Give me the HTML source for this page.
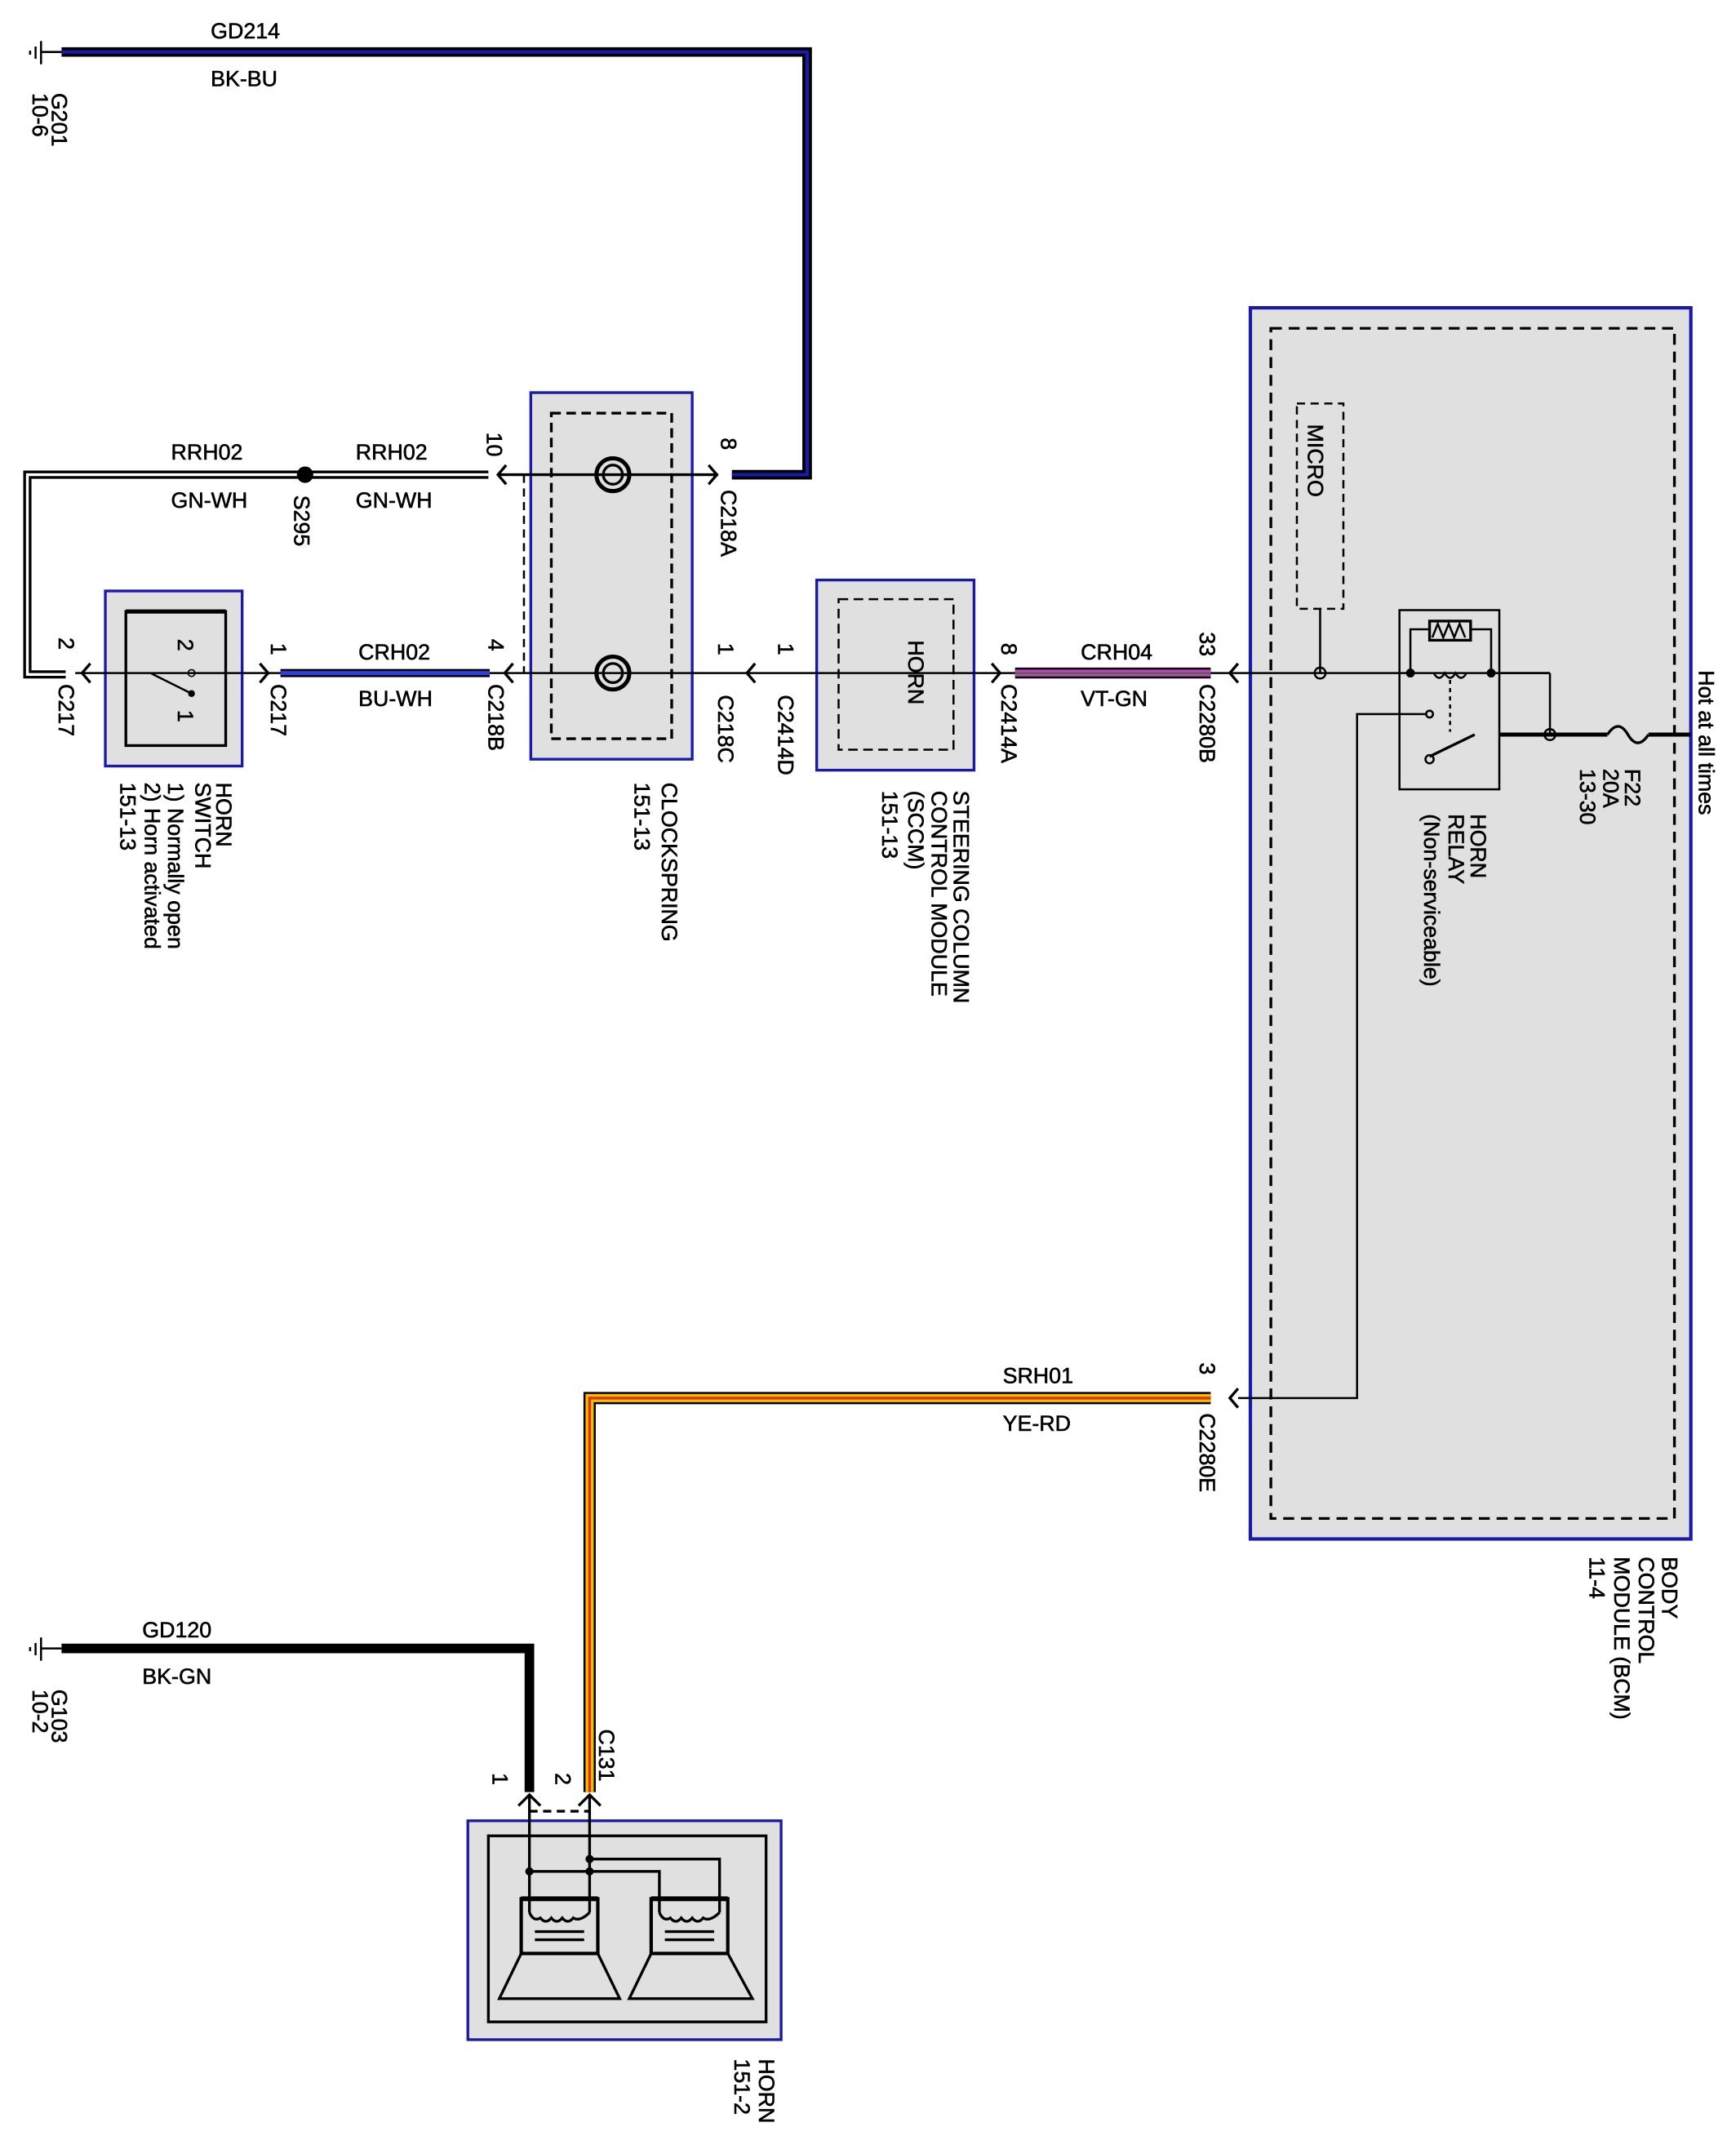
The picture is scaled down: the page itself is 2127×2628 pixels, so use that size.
<!DOCTYPE html>
<html><head><meta charset="utf-8"><style>html,body{margin:0;padding:0;background:#fff}svg{display:block}text{font-family:"Liberation Sans",Arial,sans-serif;font-size:16px;fill:#000;stroke:#000;stroke-width:0.35}</style></head><body>
<svg width="2127" height="2628" viewBox="0 0 1269 1568" preserveAspectRatio="none" xmlns="http://www.w3.org/2000/svg">
<rect width="1269" height="1568" fill="#fff"/>
<rect x="388" y="287" width="118" height="268" fill="#e0e0e0" stroke="#1a1aa8" stroke-width="2"/>
<rect x="403" y="302" width="88" height="238" fill="none" stroke="#000" stroke-width="2" stroke-dasharray="7,4"/>
<line x1="383" y1="347" x2="383" y2="492" stroke="#000" stroke-width="1.5" stroke-dasharray="6,4"/>
<rect x="77" y="432" width="100" height="128" fill="#e0e0e0" stroke="#1a1aa8" stroke-width="2"/>
<rect x="92" y="447" width="73" height="98" fill="none" stroke="#000" stroke-width="2"/>
<line x1="92" y1="447" x2="165" y2="447" stroke="#000" stroke-width="3"/>
<rect x="597" y="424" width="115" height="139" fill="#e0e0e0" stroke="#1a1aa8" stroke-width="2"/>
<rect x="613" y="438" width="84" height="110" fill="none" stroke="#000" stroke-width="1.5" stroke-dasharray="7,4"/>
<rect x="914" y="225" width="322" height="900" fill="#e0e0e0" stroke="#1a1aa8" stroke-width="2.5"/>
<rect x="929" y="240" width="295" height="870" fill="none" stroke="#000" stroke-width="2" stroke-dasharray="8,5"/>
<rect x="948" y="295" width="34" height="150" fill="none" stroke="#000" stroke-width="1.5" stroke-dasharray="6,4"/>
<rect x="1023" y="446" width="73" height="131" fill="none" stroke="#000" stroke-width="1.5"/>
<rect x="342" y="1331" width="229" height="160" fill="#e0e0e0" stroke="#1a1aa8" stroke-width="2"/>
<rect x="357" y="1342" width="203" height="136" fill="none" stroke="#000" stroke-width="2"/>
<g stroke="#000" fill="none" stroke-width="1.5">
<line x1="30" y1="30" x2="30" y2="47"/><line x1="26" y1="34" x2="26" y2="43"/><line x1="22" y1="37" x2="22" y2="40"/>
<line x1="30" y1="38" x2="45" y2="38"/>
<line x1="30" y1="1197" x2="30" y2="1214"/><line x1="26" y1="1201" x2="26" y2="1210"/><line x1="22" y1="1204" x2="22" y2="1207"/>
<line x1="30" y1="1205" x2="45" y2="1205"/>
</g>
<polyline points="45,38 590,38 590,347 535,347" fill="none" stroke="#000" stroke-width="7"/>
<polyline points="45,38 590,38 590,347 535,347" fill="none" stroke="#1a1ab0" stroke-width="2.5"/>
<polyline points="45,1205 387,1205 387,1310" fill="none" stroke="#000" stroke-width="7"/>
<polyline points="885,1022 431,1022 431,1310" fill="none" stroke="#000" stroke-width="9"/>
<polyline points="885,1022 431,1022 431,1310" fill="none" stroke="#f0c000" stroke-width="6"/>
<polyline points="885,1022 431,1022 431,1310" fill="none" stroke="#e03000" stroke-width="2"/>
<polyline points="357,347 20,347 20,493 48,493" fill="none" stroke="#000" stroke-width="6"/>
<polyline points="357,347 20,347 20,493 48,493" fill="none" stroke="#fff" stroke-width="2"/>
<circle cx="223" cy="347" r="6" fill="#000"/>
<line x1="365" y1="347" x2="525" y2="347" stroke="#000" stroke-width="2"/>
<circle cx="448" cy="347" r="12" fill="none" stroke="#000" stroke-width="3"/><circle cx="448" cy="347" r="7" fill="none" stroke="#000" stroke-width="2"/>
<circle cx="448" cy="492" r="12" fill="none" stroke="#000" stroke-width="3"/><circle cx="448" cy="492" r="7" fill="none" stroke="#000" stroke-width="2"/>
<line x1="55" y1="492" x2="1133" y2="492" stroke="#000" stroke-width="1.5"/>
<line x1="205" y1="492" x2="358" y2="492" stroke="#000" stroke-width="6"/>
<line x1="205" y1="492" x2="358" y2="492" stroke="#3040e0" stroke-width="3"/>
<line x1="742" y1="492" x2="885" y2="492" stroke="#000" stroke-width="8"/>
<line x1="742" y1="492" x2="885" y2="492" stroke="#c040c0" stroke-width="5"/>
<line x1="742" y1="492" x2="885" y2="492" stroke="#208020" stroke-width="1"/>
<circle cx="140" cy="492" r="2.5" fill="none" stroke="#000"/><circle cx="140" cy="507" r="2.5" fill="#000"/>
<line x1="110" y1="492" x2="140" y2="507" stroke="#000" stroke-width="1.5"/>
<g stroke="#000" stroke-width="2" fill="none">
<path d="M370,340 L364,347 L370,354"/><path d="M518,340 L524,347 L518,354"/>
<path d="M66,485 L60,492 L66,499"/><path d="M190,485 L196,492 L190,499"/>
<path d="M375,485 L369,492 L375,499"/><path d="M552,485 L546,492 L552,499"/>
<path d="M725,485 L731,492 L725,499"/><path d="M905,485 L899,492 L905,499"/>
<path d="M905,1015 L899,1022 L905,1029"/>
<path d="M379,1320 L387,1312 L395,1320"/><path d="M423,1320 L431,1312 L439,1320"/>
</g>
<line x1="387" y1="1324" x2="431" y2="1324" stroke="#000" stroke-width="2" stroke-dasharray="6,4"/>
<g stroke="#000" stroke-width="1.5" fill="none">
<line x1="965" y1="445" x2="965" y2="492"/><circle cx="965" cy="492" r="4"/>
<line x1="1096" y1="492" x2="1133" y2="492"/><line x1="1133" y1="492" x2="1133" y2="537"/>
<circle cx="1133" cy="537" r="4"/>
<line x1="1096" y1="537" x2="1175" y2="537" stroke-width="3"/><path d="M1175,537 q8,-12 15,0 q7,12 15,0" stroke-width="2"/>
<line x1="1205" y1="537" x2="1236" y2="537" stroke-width="3"/>
<polyline points="1031,492 1031,460 1045,460"/><polyline points="1090,492 1090,460 1075,460"/>
<rect x="1045" y="454" width="30" height="14" stroke-width="2"/><path d="M1047,466 l4,-10 l4,10 l4,-10 l4,10 l4,-10 l4,10"/>
<circle cx="1031" cy="492" r="2.5" fill="#000"/><circle cx="1090" cy="492" r="2.5" fill="#000"/>
<path d="M1048,492 q4,7 8,0 q4,7 8,0 q4,7 8,0"/>
<line x1="1060" y1="497" x2="1060" y2="535" stroke-dasharray="3,3"/>
<circle cx="1045" cy="522" r="2.5"/><polyline points="1043,522 992,522 992,1022 905,1022"/>
<line x1="1045" y1="553" x2="1078" y2="537" stroke-width="2"/><circle cx="1045" cy="555" r="3"/>
</g>
<g stroke="#000" stroke-width="2" fill="none">
<line x1="387" y1="1312" x2="387" y2="1398"/><line x1="431" y1="1312" x2="431" y2="1398"/>
<polyline points="431,1359 526,1359 526,1398"/>
<polyline points="387,1368 482,1368 482,1398"/>
<circle cx="387" cy="1368" r="2" fill="#000"/><circle cx="431" cy="1368" r="2" fill="#000"/><circle cx="431" cy="1359" r="2" fill="#000"/>
<rect x="381" y="1388" width="56" height="40" stroke-width="2.5"/><rect x="476" y="1388" width="56" height="40" stroke-width="2.5"/>
<line x1="381" y1="1388" x2="437" y2="1388" stroke-width="3.5"/><line x1="476" y1="1388" x2="532" y2="1388" stroke-width="3.5"/>
<path d="M365,1461 L381,1428 L437,1428 L453,1461 Z"/><path d="M460,1461 L476,1428 L532,1428 L550,1461 Z"/>
<line x1="391" y1="1412" x2="427" y2="1412"/><line x1="391" y1="1418" x2="427" y2="1418"/>
<line x1="486" y1="1412" x2="522" y2="1412"/><line x1="486" y1="1418" x2="522" y2="1418"/>
<path d="M387,1398 q3,7 8,4 q4,5 8,0 q4,5 8,0 q4,5 8,0 q5,3 12,-4"/>
<path d="M482,1398 q3,7 8,4 q4,5 8,0 q4,5 8,0 q4,5 8,0 q5,3 12,-4"/>
</g>
<text x="154" y="28">GD214</text><text x="154" y="63">BK-BU</text>
<text x="125" y="336">RRH02</text><text x="125" y="371">GN-WH</text>
<text x="260" y="336">RRH02</text><text x="260" y="371">GN-WH</text>
<text x="262" y="482">CRH02</text><text x="262" y="516">BU-WH</text>
<text x="790" y="482">CRH04</text><text x="790" y="516">VT-GN</text>
<text x="733" y="1011">SRH01</text><text x="733" y="1046">YE-RD</text>
<text x="104" y="1197">GD120</text><text x="104" y="1231">BK-GN</text>
<g font-size="16">
<text transform="translate(38,68) rotate(90)">G201</text><text transform="translate(24,68) rotate(90)">10-6</text>
<text transform="translate(38,1235) rotate(90)">G103</text><text transform="translate(24,1235) rotate(90)">10-2</text>
<text transform="translate(215,362) rotate(90)">S295</text>
<text transform="translate(356,316) rotate(90)">10</text>
<text transform="translate(527,320) rotate(90)">8</text>
<text transform="translate(527,358) rotate(90)">C218A</text>
<text transform="translate(43,466) rotate(90)">2</text><text transform="translate(43,500) rotate(90)">C217</text>
<text transform="translate(198,470) rotate(90)">1</text><text transform="translate(198,500) rotate(90)">C217</text>
<text transform="translate(357,467) rotate(90)">4</text><text transform="translate(357,500) rotate(90)">C218B</text>
<text transform="translate(525,470) rotate(90)">1</text><text transform="translate(525,508) rotate(90)">C218C</text>
<text transform="translate(569,470) rotate(90)">1</text><text transform="translate(569,508) rotate(90)">C2414D</text>
<text transform="translate(732,470) rotate(90)">8</text><text transform="translate(732,500) rotate(90)">C2414A</text>
<text transform="translate(877,462) rotate(90)">33</text><text transform="translate(877,500) rotate(90)">C2280B</text>
<text transform="translate(877,996) rotate(90)">3</text><text transform="translate(877,1033) rotate(90)">C2280E</text>
<text transform="translate(130,467) rotate(90)" font-size="13">2</text><text transform="translate(130,519) rotate(90)" font-size="13">1</text>
<text transform="translate(664,468) rotate(90)">HORN</text>
<text transform="translate(956,310) rotate(90)">MICRO</text>
<text transform="translate(1242,490) rotate(90)">Hot at all times</text>
<text transform="translate(1188,562) rotate(90)">F22</text><text transform="translate(1172,562) rotate(90)">20A</text><text transform="translate(1155,562) rotate(90)">13-30</text>
<text transform="translate(1075,595) rotate(90)">HORN</text><text transform="translate(1059,595) rotate(90)">RELAY</text><text transform="translate(1041,595) rotate(90)">(Non-serviceable)</text>
<text transform="translate(158,572) rotate(90)">HORN</text><text transform="translate(143,572) rotate(90)">SWITCH</text><text transform="translate(123,572) rotate(90)">1) Normally open</text><text transform="translate(106,572) rotate(90)">2) Horn activated</text><text transform="translate(88,572) rotate(90)">151-13</text>
<text transform="translate(484,572) rotate(90)">CLOCKSPRING</text><text transform="translate(464,572) rotate(90)">151-13</text>
<text transform="translate(697,578) rotate(90)">STEERING COLUMN</text><text transform="translate(681,578) rotate(90)">CONTROL MODULE</text><text transform="translate(664,578) rotate(90)">(SCCM)</text><text transform="translate(645,578) rotate(90)">151-13</text>
<text transform="translate(1215,1138) rotate(90)">BODY</text><text transform="translate(1198,1138) rotate(90)">CONTROL</text><text transform="translate(1180,1138) rotate(90)">MODULE (BCM)</text><text transform="translate(1162,1138) rotate(90)">11-4</text>
<text transform="translate(438,1264) rotate(90)">C131</text>
<text transform="translate(360,1296) rotate(90)">1</text><text transform="translate(406,1296) rotate(90)">2</text>
<text transform="translate(555,1505) rotate(90)">HORN</text><text transform="translate(537,1505) rotate(90)">151-2</text>
</g>
</svg>
</body></html>
